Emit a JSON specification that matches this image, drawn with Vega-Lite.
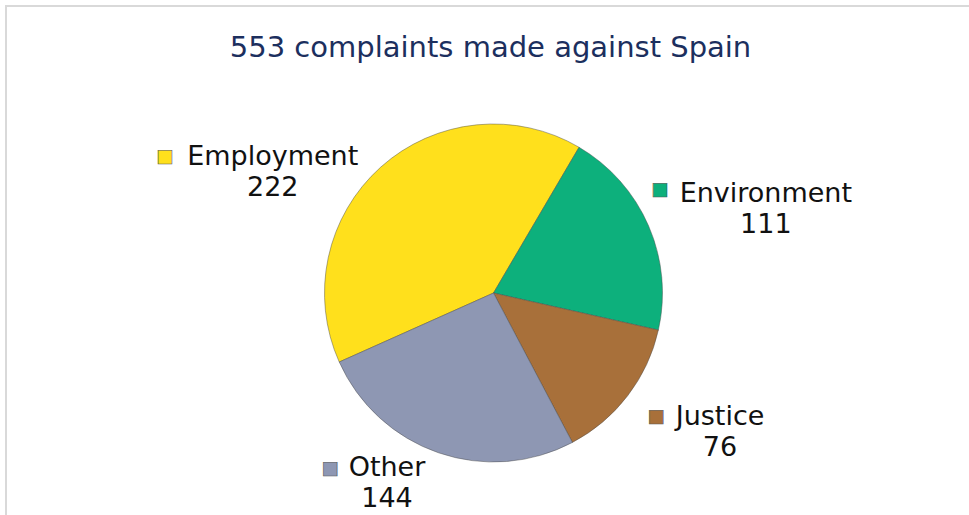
{
  "$schema": "https://vega.github.io/schema/vega-lite/v6.json",
  "width": 975,
  "height": 574,
  "autosize": "none",
  "padding": {"left": 6, "top": 6, "right": 0, "bottom": 0},
  "background": "white",
  "view": {"stroke": "#d9d9d9", "strokeWidth": 2},
  "config": {"font": "DejaVu Sans"},
  "title": {"text": "553 complaints made against Spain", "fontSize": 29, "fontWeight": "normal", "color": "#1c2f5e", "font": "DejaVu Sans", "anchor": "middle", "frame": "group", "baseline": "middle", "offset": -71, "dx": -3},
  "data": {"values": [
    {"category": "Employment", "count": 222, "label": "Employment\n222"},
    {"category": "Environment", "count": 111, "label": "Environment\n111"},
    {"category": "Justice", "count": 76, "label": "Justice\n76"},
    {"category": "Other", "count": 144, "label": "Other\n144"}
  ]},
  "encoding": {
    "theta": {"field": "count", "type": "quantitative", "stack": true, "scale": {"range": [4.2918, 10.575]}},
    "color": {"field": "category", "type": "nominal", "legend": null, "scale": {"domain": ["Employment", "Environment", "Justice", "Other"], "range": ["#ffe01c", "#0db07c", "#a8703a", "#8e97b3"]}}
  },
  "layer": [
    {"mark": {"type": "arc", "outerRadius": 169, "stroke": "#4a4a4a", "strokeWidth": 1, "strokeOpacity": 0.45}},
    {"mark": {"type": "text", "radius": 250, "dx": -54, "dy": 50, "fontSize": 27, "lineBreak": "\n", "lineHeight": 31, "align": "center", "baseline": "middle"},
     "encoding": {"text": {"field": "label"}, "color": {"value": "#111111"}, "opacity": {"condition": {"test": "datum.category === 'Employment'", "value": 1}, "value": 0}}},
    {"mark": {"type": "text", "radius": 250, "dx": 43, "dy": 0, "fontSize": 27, "lineBreak": "\n", "lineHeight": 31, "align": "center", "baseline": "middle"},
     "encoding": {"text": {"field": "label"}, "color": {"value": "#111111"}, "opacity": {"condition": {"test": "datum.category === 'Environment'", "value": 1}, "value": 0}}},
    {"mark": {"type": "text", "radius": 250, "dx": 28, "dy": -28, "fontSize": 27, "lineBreak": "\n", "lineHeight": 31, "align": "center", "baseline": "middle"},
     "encoding": {"text": {"field": "label"}, "color": {"value": "#111111"}, "opacity": {"condition": {"test": "datum.category === 'Justice'", "value": 1}, "value": 0}}},
    {"mark": {"type": "text", "radius": 250, "dx": -25, "dy": -61, "fontSize": 27, "lineBreak": "\n", "lineHeight": 31, "align": "center", "baseline": "middle"},
     "encoding": {"text": {"field": "label"}, "color": {"value": "#111111"}, "opacity": {"condition": {"test": "datum.category === 'Other'", "value": 1}, "value": 0}}},
    {"mark": {"type": "text", "radius": 250, "dx": -162, "dy": 50, "fontSize": 18, "align": "center", "baseline": "middle", "stroke": "#555555", "strokeWidth": 0.6},
     "encoding": {"text": {"value": "■"}, "opacity": {"condition": {"test": "datum.category === 'Employment'", "value": 1}, "value": 0}}},
    {"mark": {"type": "text", "radius": 250, "dx": -63, "dy": -4, "fontSize": 18, "align": "center", "baseline": "middle", "stroke": "#555555", "strokeWidth": 0.6},
     "encoding": {"text": {"value": "■"}, "opacity": {"condition": {"test": "datum.category === 'Environment'", "value": 1}, "value": 0}}},
    {"mark": {"type": "text", "radius": 250, "dx": -36, "dy": -28, "fontSize": 18, "align": "center", "baseline": "middle", "stroke": "#555555", "strokeWidth": 0.6},
     "encoding": {"text": {"value": "■"}, "opacity": {"condition": {"test": "datum.category === 'Justice'", "value": 1}, "value": 0}}},
    {"mark": {"type": "text", "radius": 250, "dx": -82, "dy": -60, "fontSize": 18, "align": "center", "baseline": "middle", "stroke": "#555555", "strokeWidth": 0.6},
     "encoding": {"text": {"value": "■"}, "opacity": {"condition": {"test": "datum.category === 'Other'", "value": 1}, "value": 0}}}
  ]
}
